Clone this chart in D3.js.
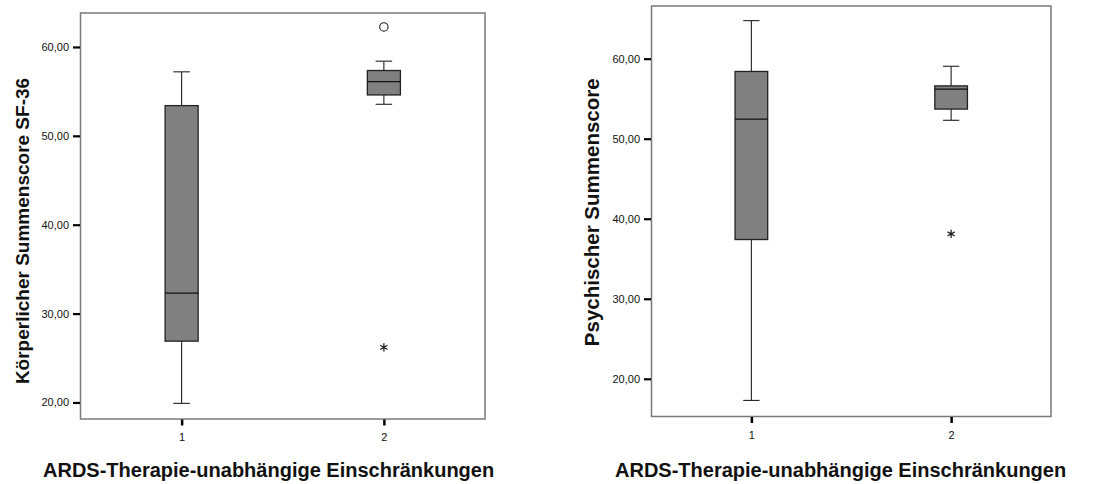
<!DOCTYPE html>
<html>
<head>
<meta charset="utf-8">
<script src="https://cdn.jsdelivr.net/npm/d3@7"></script>
<style>
  body { margin: 0; background: #fff; }
  svg { display: block; font-family: "Liberation Sans", Arial, sans-serif; }
</style>
</head>
<body>
<svg id="chart" width="1098" height="484"></svg>
<script>
// groups on the x axis
var categories = ['1', '2'];
var yTicks = [20, 30, 40, 50, 60];
var xTitle = 'ARDS-Therapie-unabhängige Einschränkungen';

// left panel: physical summary score
var koerperStats = [
  { cat: '1', low: 19.9, q1: 26.9, median: 32.3, q3: 53.4, high: 57.2 },
  { cat: '2', low: 53.55, q1: 54.6, median: 56.1, q3: 57.35, high: 58.4 }
];
var koerperOutliers = [
  { cat: '2', value: 62.25, kind: 'circle' },
  { cat: '2', value: 26.2, kind: 'star' }
];

// right panel: mental summary score
var psychStats = [
  { cat: '1', low: 17.3, q1: 37.4, median: 52.45, q3: 58.4, high: 64.75 },
  { cat: '2', low: 52.3, q1: 53.7, median: 56.2, q3: 56.6, high: 59.05 }
];
var psychOutliers = [
  { cat: '2', value: 38.1, kind: 'star' }
];

var svg = d3.select('#chart');
var fmt = function(v) { return d3.format('.2f')(v).replace('.', ','); };

function drawPanel(opts) {
  var g = svg.append('g');
  var x = d3.scalePoint().domain(categories)
    .range([opts.left, opts.right]).padding(0.5);
  var y = d3.scaleLinear().domain(opts.yDomain)
    .range([opts.bottom, opts.top]);
  var halfBox = x.step() * 0.0817;
  var halfCap = halfBox * 0.5;

  // frame
  g.append('rect')
    .attr('x', opts.left).attr('y', opts.top)
    .attr('width', opts.right - opts.left)
    .attr('height', opts.bottom - opts.top)
    .attr('fill', 'none').attr('stroke', '#7a7a7a').attr('stroke-width', 1.5);

  // y axis
  var yAxis = d3.axisLeft(y).tickValues(yTicks).tickFormat(fmt)
    .tickSize(7).tickPadding(4);
  var ya = g.append('g').attr('transform', 'translate(' + (opts.left - 0.5) + ',0)')
    .call(yAxis);
  ya.select('.domain').remove();
  ya.selectAll('.tick line').attr('stroke', '#000').attr('stroke-width', 2.2);
  ya.selectAll('.tick text').attr('fill', '#111').style('font-size', '11px');

  // x axis
  var xAxis = d3.axisBottom(x).tickSize(6).tickPadding(8);
  var xa = g.append('g').attr('transform', 'translate(0,' + (opts.bottom + 0.5) + ')')
    .call(xAxis);
  xa.select('.domain').remove();
  xa.selectAll('.tick line').attr('stroke', '#000').attr('stroke-width', 2.5);
  xa.selectAll('.tick text').attr('fill', '#111').style('font-size', '11px');

  // whiskers
  var wk = g.selectAll('.whisker').data(opts.stats).enter().append('g')
    .attr('stroke', '#222').attr('stroke-width', 1.1);
  wk.append('line')
    .attr('x1', function(d) { return x(d.cat); }).attr('x2', function(d) { return x(d.cat); })
    .attr('y1', function(d) { return y(d.high); }).attr('y2', function(d) { return y(d.q3); });
  wk.append('line')
    .attr('x1', function(d) { return x(d.cat); }).attr('x2', function(d) { return x(d.cat); })
    .attr('y1', function(d) { return y(d.q1); }).attr('y2', function(d) { return y(d.low); });
  wk.append('line')
    .attr('x1', function(d) { return x(d.cat) - halfCap; }).attr('x2', function(d) { return x(d.cat) + halfCap; })
    .attr('y1', function(d) { return y(d.high); }).attr('y2', function(d) { return y(d.high); });
  wk.append('line')
    .attr('x1', function(d) { return x(d.cat) - halfCap; }).attr('x2', function(d) { return x(d.cat) + halfCap; })
    .attr('y1', function(d) { return y(d.low); }).attr('y2', function(d) { return y(d.low); });

  // boxes
  g.selectAll('.box').data(opts.stats).enter().append('rect')
    .attr('x', function(d) { return x(d.cat) - halfBox; })
    .attr('y', function(d) { return y(d.q3); })
    .attr('width', halfBox * 2)
    .attr('height', function(d) { return y(d.q1) - y(d.q3); })
    .attr('fill', '#808080').attr('stroke', '#222').attr('stroke-width', 1.3);
  g.selectAll('.median').data(opts.stats).enter().append('line')
    .attr('x1', function(d) { return x(d.cat) - halfBox; })
    .attr('x2', function(d) { return x(d.cat) + halfBox; })
    .attr('y1', function(d) { return y(d.median); })
    .attr('y2', function(d) { return y(d.median); })
    .attr('stroke', '#111').attr('stroke-width', 1.4);

  // outliers
  g.selectAll('.outlier').data(opts.outliers).enter().append('path')
    .attr('transform', function(d) { return 'translate(' + x(d.cat) + ',' + y(d.value) + ')'; })
    .attr('d', function(d) {
      return d.kind === 'circle'
        ? d3.symbol(d3.symbolCircle, 55)()
        : d3.symbol(d3.symbolAsterisk, 48)();
    })
    .attr('fill', '#fff')
    .attr('stroke', '#222')
    .attr('stroke-width', function(d) { return d.kind === 'circle' ? 1.1 : 1.3; });

  // titles
  g.append('text')
    .attr('transform', 'translate(' + opts.yTitleX + ',' + ((opts.top + opts.bottom) / 2 + opts.yTitleShift) + ') rotate(-90)')
    .attr('text-anchor', 'middle')
    .style('font-size', opts.yTitleSize).style('font-weight', 'bold').attr('fill', '#111')
    .text(opts.yTitle);
  g.append('text')
    .attr('x', opts.xTitleX).attr('y', 477)
    .style('font-size', '20px').style('font-weight', 'bold').attr('fill', '#111')
    .text(xTitle);
}

drawPanel({
  left: 80.5, right: 485, top: 13, bottom: 419,
  yDomain: [18.14, 63.82],
  stats: koerperStats, outliers: koerperOutliers,
  yTitle: 'Körperlicher Summenscore SF-36', yTitleX: 29, yTitleShift: 15, yTitleSize: '19px',
  xTitleX: 43
});

drawPanel({
  left: 651.5, right: 1051, top: 6, bottom: 416.5,
  yDomain: [15.29, 66.58],
  stats: psychStats, outliers: psychOutliers,
  yTitle: 'Psychischer Summenscore', yTitleX: 599, yTitleShift: 1, yTitleSize: '20.5px',
  xTitleX: 615
});
</script>
</body>
</html>
